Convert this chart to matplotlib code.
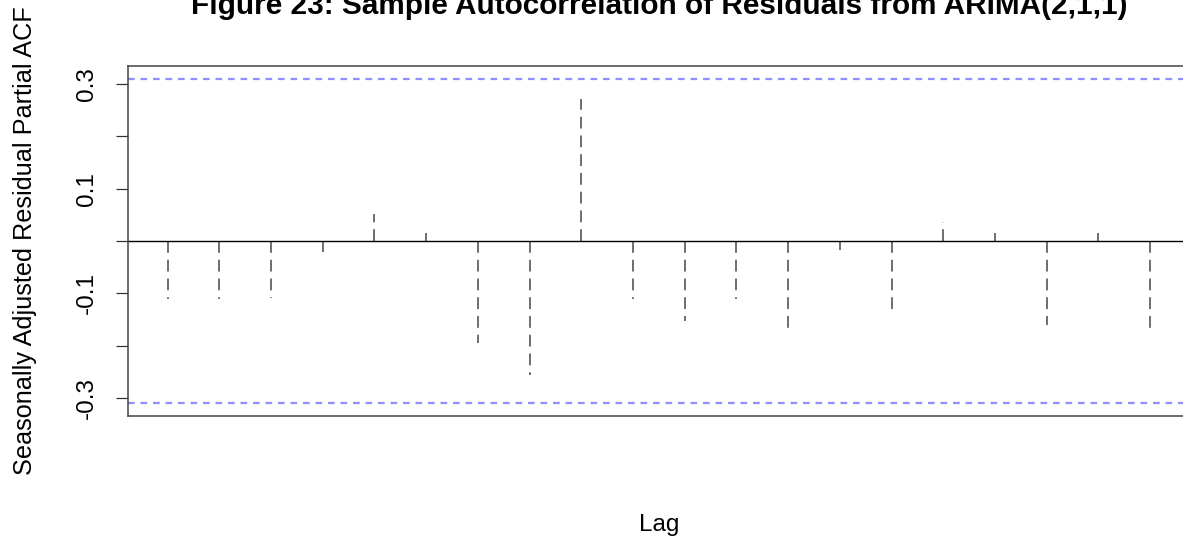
import matplotlib
matplotlib.use('Agg')
import matplotlib.pyplot as plt
import numpy as np

plt.rcParams.update({
    'font.family': ['Liberation Sans', 'DejaVu Sans'],
    'font.size': 17.5,
    'lines.scale_dashes': False,
})

# --- Data: sample partial ACF of residuals, lags 1..20 ---
lags = np.arange(1, 21)
pacf_vals = [-0.111, -0.111, -0.109, -0.021, 0.051, 0.015, -0.196, -0.256, 0.271, -0.111,
             -0.154, -0.111, -0.166, -0.017, -0.143, 0.037, 0.016, -0.160, 0.016, -0.166]
conf_bound = 0.31
y_ticks = [-0.3, -0.2, -0.1, 0.0, 0.1, 0.2, 0.3]
y_tick_labels = ['-0.3', '', '-0.1', '', '0.1', '', '0.3']

W, H = 1183, 537
fig = plt.figure(figsize=(W / 100, H / 100), dpi=100)
fig.patch.set_facecolor('white')

# axes box runs slightly off the right edge, like the cropped original
ax = fig.add_axes([128.3 / W, 1 - 416 / H, (1189.5 - 128.3) / W, (416 - 66) / H])

# lag spikes
ax.vlines(lags, 0, pacf_vals, colors='#555555', linewidth=1.2, linestyles=(0, (8.5, 5)))
ax.axhline(0, color='black', linewidth=1.0)
for b in (conf_bound, -conf_bound):
    ax.axhline(b, color='#8f8fff', linewidth=1.6, linestyle=(0, (4.8, 4.2)))

span = lags[-1] - lags[0]
ax.set_xlim(lags[0] - 0.04 * span, lags[-1] + 0.04 * span)
ax.set_ylim(-0.3348, 0.3348)

ax.set_xticks([])
ax.set_yticks(y_ticks)
ax.set_yticklabels(y_tick_labels, rotation=90, va='center')
ax.tick_params(axis='y', direction='out', length=8.6, width=0.9, pad=13.5, color='#333333')

for s in ax.spines.values():
    s.set_color('#444444')
    s.set_linewidth(1.1)

# titles and labels (placed like base R graphics)
cx = (128.3 + 1189.5) / 2 / W
fig.text(cx, 1 - 14 / H, 'Figure 23: Sample Autocorrelation of Residuals from ARIMA(2,1,1)',
         ha='center', va='baseline', fontsize=21.4, fontweight='bold')
fig.text(cx, 1 - 531 / H, 'Lag', ha='center', va='baseline')
fig.text(25 / W, 1 - 241 / H, 'Seasonally Adjusted Residual Partial ACF',
         ha='center', va='center', rotation=90, fontsize=18.2)

fig.savefig('out.png', dpi=100, facecolor='white')
